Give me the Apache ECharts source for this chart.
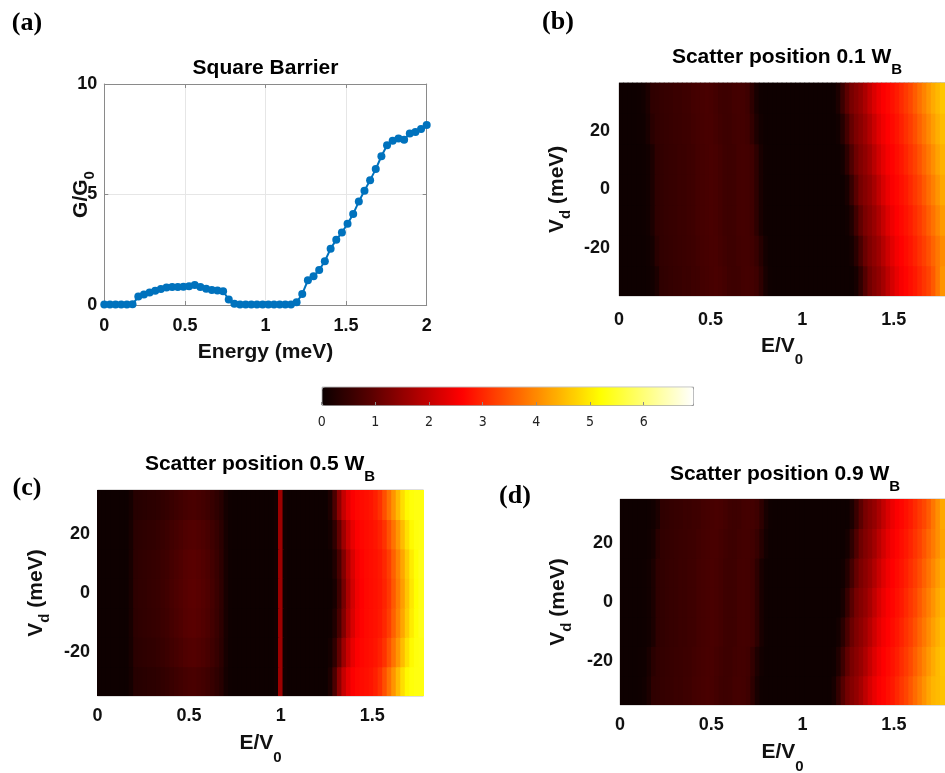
<!DOCTYPE html>
<html><head><meta charset="utf-8">
<script src="https://cdn.jsdelivr.net/npm/echarts@6/dist/echarts.min.js"></script>
<style>html,body{margin:0;padding:0;background:#fff}#c{width:945px;height:773px}</style>
</head><body><div id="c"></div>
<script>
// ---------- Panel (a): Square Barrier ----------
const energyMeV = [0,0.035,0.070,0.105,0.140,0.175,0.211,0.246,0.281,0.316,0.351,0.386,0.421,0.456,0.491,0.526,0.561,0.596,0.632,0.667,0.702,0.737,0.772,0.807,0.842,0.877,0.912,0.947,0.982,1.018,1.053,1.088,1.123,1.158,1.193,1.228,1.263,1.298,1.333,1.368,1.404,1.439,1.474,1.509,1.544,1.579,1.614,1.649,1.684,1.719,1.754,1.789,1.825,1.860,1.895,1.930,1.965,2.0];
const conductanceG = [0.02,0.02,0.02,0.02,0.02,0.03,0.38,0.48,0.57,0.64,0.72,0.79,0.82,0.82,0.83,0.85,0.9,0.82,0.74,0.68,0.66,0.62,0.25,0.06,0.02,0.02,0.02,0.02,0.02,0.02,0.02,0.02,0.02,0.02,0.12,0.5,1.12,1.3,1.58,1.98,2.55,2.95,3.28,3.68,4.12,4.68,5.17,5.65,6.15,6.73,7.23,7.43,7.53,7.48,7.76,7.83,7.96,8.14];
const aXTicks = [0,0.5,1,1.5,2];
const aYTicks = [0,5,10];

// ---------- Heatmaps (b), (c), (d) ----------
const eOverV0 = [0,0.025,0.05,0.075,0.1,0.125,0.15,0.175,0.2,0.225,0.25,0.275,0.3,0.325,0.35,0.375,0.4,0.425,0.45,0.475,0.5,0.525,0.55,0.575,0.6,0.625,0.65,0.675,0.7,0.725,0.75,0.775,0.8,0.825,0.85,0.875,0.9,0.925,0.95,0.975,1,1.025,1.05,1.075,1.1,1.125,1.15,1.175,1.2,1.225,1.25,1.275,1.3,1.325,1.35,1.375,1.4,1.425,1.45,1.475,1.5,1.525,1.55,1.575,1.6,1.625,1.65,1.675,1.7,1.725,1.75,1.775];
const vdRows = [-30,-20,-10,0,10,20,30];
const heatXTicks = [0,0.5,1,1.5];
const heatYTicks = [-20,0,20];
const colorbarTicks = [0,1,2,3,4,5,6];
const colorMax = 6.92;

// (b)/(d) low-energy part, E/V0 = 0 .. 1.125 (46 cells)
const lowMid       = [0.03,0.03,0.03,0.03,0.04,0.05,0.08,0.2,0.42,0.45,0.48,0.5,0.52,0.55,0.55,0.58,0.6,0.65,0.68,0.7,0.72,0.7,0.66,0.6,0.58,0.6,0.65,0.67,0.66,0.6,0.4,0.15,0.05,0.03,0.03,0.03,0.03,0.03,0.03,0.03,0.03,0.03,0.03,0.03,0.03,0.03];
const lowLeft      = [0.03,0.03,0.03,0.04,0.05,0.08,0.2,0.42,0.45,0.48,0.5,0.52,0.55,0.55,0.58,0.6,0.65,0.68,0.7,0.72,0.7,0.66,0.6,0.58,0.6,0.65,0.67,0.66,0.6,0.4,0.15,0.05,0.03,0.03,0.03,0.03,0.03,0.03,0.03,0.03,0.03,0.03,0.03,0.03,0.03,0.03];
const lowRight     = [0.03,0.03,0.03,0.03,0.03,0.04,0.05,0.08,0.2,0.42,0.45,0.48,0.5,0.52,0.55,0.55,0.58,0.6,0.65,0.68,0.7,0.72,0.7,0.66,0.6,0.58,0.6,0.65,0.67,0.66,0.6,0.4,0.15,0.05,0.03,0.03,0.03,0.03,0.03,0.03,0.03,0.03,0.03,0.03,0.03,0.03];
const lowLeftHalf  = [0.03,0.03,0.03,0.04,0.05,0.06,0.16,0.35,0.44,0.47,0.49,0.51,0.54,0.55,0.57,0.59,0.63,0.67,0.69,0.71,0.71,0.67,0.62,0.59,0.59,0.63,0.66,0.66,0.62,0.46,0.22,0.08,0.04,0.03,0.03,0.03,0.03,0.03,0.03,0.03,0.03,0.03,0.03,0.03,0.03,0.03];
const lowRightHalf = [0.03,0.03,0.03,0.03,0.03,0.04,0.06,0.12,0.35,0.44,0.47,0.49,0.51,0.54,0.55,0.57,0.59,0.63,0.67,0.69,0.71,0.71,0.67,0.62,0.59,0.59,0.63,0.66,0.66,0.62,0.52,0.3,0.1,0.04,0.03,0.03,0.03,0.03,0.03,0.03,0.03,0.03,0.03,0.03,0.03,0.03];

// (b) high-energy part, E/V0 = 1.15 .. 1.775 (26 cells), one per Vd row
const bHighM30 = [0.03,0.03,0.03,0.03,0.03,0.03,0.13,0.45,0.84,1.16,1.33,1.48,1.67,1.92,2.17,2.37,2.53,2.64,2.74,2.84,2.98,3.13,3.28,3.5,3.8,4.1];
const bHighM20 = [0.03,0.03,0.03,0.03,0.03,0.1,0.35,0.73,1.07,1.29,1.44,1.61,1.84,2.09,2.31,2.49,2.61,2.71,2.81,2.94,3.09,3.24,3.41,3.61,3.81,4.01];
const bHighM10 = [0.03,0.03,0.03,0.03,0.07,0.25,0.62,0.99,1.24,1.39,1.56,1.77,2.02,2.26,2.44,2.58,2.68,2.78,2.89,3.04,3.19,3.36,3.56,3.76,3.96,4.16];
const bHigh0   = [0.03,0.03,0.03,0.03,0.15,0.5,0.9,1.2,1.35,1.5,1.7,1.95,2.2,2.4,2.55,2.65,2.75,2.85,3.0,3.15,3.3,3.5,3.7,3.9,4.1,4.3];
const bHighP10 = [0.03,0.03,0.03,0.11,0.4,0.78,1.11,1.31,1.46,1.64,1.88,2.13,2.34,2.51,2.62,2.72,2.82,2.96,3.11,3.26,3.44,3.64,3.84,4.04,4.24,4.41];
const bHighP20 = [0.03,0.03,0.08,0.3,0.67,1.03,1.26,1.41,1.59,1.81,2.06,2.29,2.46,2.59,2.69,2.79,2.92,3.07,3.22,3.39,3.59,3.79,3.99,4.19,4.37,4.52];
const bHighP30 = [0.03,0.05,0.2,0.56,0.94,1.22,1.37,1.53,1.74,1.99,2.23,2.42,2.56,2.66,2.76,2.87,3.02,3.17,3.33,3.53,3.73,3.93,4.13,4.32,4.47,4.62];

// (d) high-energy part
const dHighM30 = [0.03,0.14,0.47,0.86,1.17,1.34,1.49,1.68,1.93,2.18,2.38,2.54,2.64,2.74,2.84,2.99,3.14,3.29,3.48,3.68,3.88,4.08,4.28,4.44,4.5,4.58];
const dHighM20 = [0.03,0.06,0.24,0.6,0.98,1.24,1.39,1.55,1.76,2.01,2.25,2.44,2.58,2.68,2.78,2.89,3.04,3.19,3.35,3.55,3.75,3.95,4.15,4.34,4.49,4.6];
const dHighM10 = [0.03,0.03,0.1,0.36,0.74,1.08,1.29,1.44,1.62,1.85,2.1,2.32,2.49,2.61,2.71,2.81,2.94,3.09,3.24,3.42,3.62,3.82,4.02,4.22,4.39,4.54];
const dHigh0   = [0.03,0.03,0.03,0.15,0.5,0.9,1.2,1.35,1.5,1.7,1.95,2.2,2.4,2.55,2.65,2.75,2.85,3.0,3.15,3.3,3.5,3.7,3.9,4.1,4.3,4.45];
const dHighP10 = [0.03,0.03,0.03,0.08,0.29,0.66,1.02,1.26,1.41,1.58,1.8,2.05,2.28,2.46,2.59,2.69,2.79,2.91,3.06,3.21,3.38,3.58,3.78,3.98,4.18,4.36];
const dHighP20 = [0.03,0.03,0.03,0.03,0.12,0.41,0.8,1.13,1.31,1.46,1.65,1.89,2.14,2.35,2.51,2.63,2.73,2.83,2.96,3.11,3.26,3.45,3.65,3.85,4.05,4.25];
const dHighP30 = [0.03,0.03,0.03,0.03,0.04,0.19,0.54,0.93,1.22,1.37,1.52,1.73,1.98,2.22,2.42,2.56,2.66,2.76,2.87,3.02,3.17,3.32,3.52,3.8,4.05,4.3];

// (c) low-energy part, E/V0 = 0 .. 1.225 (50 cells), incl. the resonance line at E = V0
const cLow0  = [0.03,0.03,0.03,0.03,0.03,0.03,0.03,0.15,0.4,0.43,0.45,0.48,0.5,0.53,0.57,0.62,0.7,0.76,0.82,0.88,0.92,0.93,0.9,0.85,0.78,0.68,0.55,0.4,0.15,0.05,0.03,0.03,0.03,0.03,0.03,0.03,0.03,0.03,0.03,0.08,1.6,0.08,0.03,0.03,0.03,0.03,0.03,0.03,0.03,0.03];
const cLow10 = [0.03,0.03,0.03,0.03,0.03,0.03,0.03,0.15,0.39,0.42,0.44,0.47,0.49,0.52,0.56,0.6,0.68,0.74,0.8,0.86,0.9,0.91,0.88,0.83,0.76,0.66,0.54,0.39,0.15,0.05,0.03,0.03,0.03,0.03,0.03,0.03,0.03,0.03,0.03,0.08,1.6,0.08,0.03,0.03,0.03,0.03,0.03,0.03,0.03,0.03];
const cLow20 = [0.03,0.03,0.03,0.03,0.03,0.03,0.03,0.14,0.36,0.39,0.41,0.43,0.45,0.48,0.51,0.56,0.63,0.68,0.74,0.79,0.83,0.84,0.81,0.77,0.7,0.61,0.5,0.36,0.14,0.05,0.03,0.03,0.03,0.03,0.03,0.03,0.03,0.03,0.03,0.08,1.6,0.08,0.03,0.03,0.03,0.03,0.03,0.03,0.03,0.03];
const cLow30 = [0.03,0.03,0.03,0.03,0.03,0.03,0.03,0.12,0.31,0.33,0.35,0.37,0.39,0.41,0.44,0.48,0.54,0.59,0.63,0.68,0.71,0.72,0.69,0.65,0.6,0.52,0.42,0.31,0.12,0.05,0.03,0.03,0.03,0.03,0.03,0.03,0.03,0.03,0.03,0.08,1.6,0.08,0.03,0.03,0.03,0.03,0.03,0.03,0.03,0.03];
// (c) high-energy part, E/V0 = 1.25 .. 1.775 (22 cells)
const cHigh0  = [0.03,0.03,0.15,0.6,1.2,1.75,2.15,2.45,2.6,2.68,2.72,2.76,2.82,2.95,3.15,3.5,3.85,4.2,4.6,4.95,5.2,5.35];
const cHigh10 = [0.03,0.05,0.24,0.71,1.3,1.83,2.21,2.48,2.62,2.69,2.73,2.77,2.84,2.99,3.22,3.57,3.92,4.28,4.67,5.0,5.23,5.37];
const cHigh20 = [0.03,0.1,0.42,1.0,1.6,2.05,2.38,2.57,2.66,2.71,2.75,2.81,2.92,3.1,3.42,3.77,4.12,4.51,4.87,5.14,5.28,5.32];
const cHigh30 = [0.03,0.2,0.75,1.45,2.0,2.35,2.56,2.66,2.71,2.75,2.8,2.91,3.09,3.4,3.75,4.1,4.49,4.85,5.13,5.25,5.3,5.3];

// rows listed bottom (Vd = -30) to top (Vd = +30)
const bRows = [lowRight.concat(bHighM30), lowRightHalf.concat(bHighM20), lowMid.concat(bHighM10), lowMid.concat(bHigh0),
               lowMid.concat(bHighP10), lowLeftHalf.concat(bHighP20), lowLeft.concat(bHighP30)];
const cRows = [cLow30.concat(cHigh30), cLow20.concat(cHigh20), cLow10.concat(cHigh10), cLow0.concat(cHigh0),
               cLow10.concat(cHigh10), cLow20.concat(cHigh20), cLow30.concat(cHigh30)];
const dRows = [lowLeft.concat(dHighM30), lowLeftHalf.concat(dHighM20), lowMid.concat(dHighM10), lowMid.concat(dHigh0),
               lowMid.concat(dHighP10), lowRightHalf.concat(dHighP20), lowRight.concat(dHighP30)];

// ---------- build ----------
function cells(rows) {
  const out = [];
  rows.forEach((row, j) => row.forEach((v, i) => out.push([i, j, v])));
  return out;
}
function renderCell(params, api) {
  const c = api.coord([api.value(0), api.value(1)]);
  const s = api.size([1, 1]);
  return { type: 'rect',
    shape: { x: c[0] - s[0] / 2 - 0.6, y: c[1] - s[1] / 2 - 0.6, width: s[0] + 1.2, height: s[1] + 1.2 },
    style: { fill: api.visual('color') } };
}
const SANS = "'Liberation Sans', Arial, Helvetica, sans-serif";
const SERIF = "'Liberation Serif', 'Times New Roman', serif";
const INK = '#111';
const tickLbl = { fontFamily: SANS, fontWeight: 'bold', fontSize: 18, color: INK };
const nameMain = { fontFamily: SANS, fontWeight: 'bold', fontSize: 21, lineHeight: 22, color: INK };
const subX = { fontFamily: SANS, fontWeight: 'bold', fontSize: 15, lineHeight: 16, padding: [28, 0, 0, 0], color: INK };
const subY = { fontFamily: SANS, fontWeight: 'bold', fontSize: 15, lineHeight: 16, padding: [18, 0, 0, 0], color: INK };
const subT = { fontFamily: SANS, fontWeight: 'bold', fontSize: 15, lineHeight: 16, padding: [25, 0, 0, 0], fill: '#000' };
const titleMain = { fontFamily: SANS, fontWeight: 'bold', fontSize: 21, lineHeight: 22, fill: '#000' };
const axGray = '#8a8a8a';
const hot = ['#0b0000', '#550000', '#aa0000', '#ff0000', '#ff5500', '#ffaa00', '#ffff00', '#ffff80', '#ffffff'];

const heatGrids = [
  { left: 619, top: 82.7, width: 326, height: 213.3, vmin: -36.5, vmax: 36.5, xm: 15, ym: 9, xg: 39, yg: 51 },
  { left: 97.5, top: 490, width: 326, height: 206, vmin: -35, vmax: 35, xm: 11.5, ym: 7.5, xg: 36.7, yg: 50.5 },
  { left: 620, top: 499, width: 325, height: 206, vmin: -35, vmax: 35, xm: 11, ym: 7, xg: 36.7, yg: 51 }
];

const grid = [{ left: 104.3, top: 84, width: 322.4, height: 221, outerBoundsMode: 'none' }];
heatGrids.forEach(g => grid.push({ left: g.left, top: g.top, width: g.width, height: g.height, show: true,
  borderColor: '#bdbdbd', borderWidth: 1, backgroundColor: 'transparent', outerBoundsMode: 'none' }));
grid.push({ left: 321.7, top: 386.7, width: 371.3, height: 18.3, outerBoundsMode: 'none' });

const xAxis = [
  { type: 'value', gridIndex: 0, min: 0, max: 2, interval: 0.5, position: 'bottom',
    axisLine: { onZero: false, lineStyle: { color: axGray, width: 1 } },
    axisTick: { inside: true, length: 4, lineStyle: { color: axGray } },
    splitLine: { show: true, lineStyle: { color: '#e6e6e6', width: 1 } },
    axisLabel: Object.assign({ margin: 12, customValues: aXTicks }, tickLbl),
    name: 'Energy (meV)', nameLocation: 'middle', nameGap: 36, nameMoveOverlap: false,
    nameTextStyle: nameMain },
  { type: 'value', gridIndex: 0, min: 0, max: 2, interval: 0.5, position: 'top',
    axisLine: { onZero: false, lineStyle: { color: axGray, width: 1 } },
    axisTick: { inside: true, length: 4, lineStyle: { color: axGray } },
    axisLabel: { show: false }, splitLine: { show: false } }
];
const yAxis = [
  { type: 'value', gridIndex: 0, min: 0, max: 10, interval: 5, position: 'left',
    axisLine: { onZero: false, lineStyle: { color: axGray, width: 1 } },
    axisTick: { inside: true, length: 4, lineStyle: { color: axGray } },
    splitLine: { show: true, lineStyle: { color: '#e6e6e6', width: 1 } },
    axisLabel: Object.assign({ margin: 7, customValues: aYTicks }, tickLbl),
    name: '{m|G/G}{s|0}', nameLocation: 'middle', nameGap: 12, nameMoveOverlap: false,
    nameTextStyle: { rich: { m: nameMain, s: subY } } },
  { type: 'value', gridIndex: 0, min: 0, max: 10, interval: 5, position: 'right',
    axisLine: { onZero: false, lineStyle: { color: axGray, width: 1 } },
    axisTick: { inside: true, length: 4, lineStyle: { color: axGray } },
    axisLabel: { show: false }, splitLine: { show: false } }
];
heatGrids.forEach((g, k) => {
  const gi = k + 1;
  xAxis.push({ type: 'category', gridIndex: gi, data: eOverV0, position: 'top', show: false });
  xAxis.push({ type: 'value', gridIndex: gi, min: 0, max: 1.78, position: 'bottom',
    axisLine: { show: false, onZero: false }, axisTick: { show: false }, splitLine: { show: false },
    axisLabel: Object.assign({ margin: g.xm, customValues: heatXTicks }, tickLbl),
    name: '{m|E/V}{s|0}', nameLocation: 'middle', nameGap: g.xg, nameMoveOverlap: false,
    nameTextStyle: { rich: { m: nameMain, s: subX } } });
  yAxis.push({ type: 'category', gridIndex: gi, data: vdRows, position: 'right', show: false });
  yAxis.push({ type: 'value', gridIndex: gi, min: g.vmin, max: g.vmax, position: 'left',
    axisLine: { show: false, onZero: false }, axisTick: { show: false }, splitLine: { show: false },
    axisLabel: Object.assign({ margin: g.ym, customValues: heatYTicks }, tickLbl),
    name: '{m|V}{s|d}{m| (meV)}', nameLocation: 'middle', nameGap: g.yg, nameMoveOverlap: false,
    nameTextStyle: { rich: { m: nameMain, s: subY } } });
});
xAxis.push({ type: 'value', gridIndex: 4, min: 0, max: colorMax, position: 'bottom', z: 6,
  axisLine: { show: false, onZero: false },
  axisTick: { show: true, inside: true, length: 3, customValues: colorbarTicks, lineStyle: { color: '#8a8a8a' } },
  splitLine: { show: false },
  axisLabel: { margin: 10, customValues: colorbarTicks, fontFamily: "'Liberation Sans Narrow', 'DejaVu Sans Condensed', sans-serif", fontSize: 14, color: '#222' } });
yAxis.push({ type: 'value', gridIndex: 4, min: 0, max: 1, show: false });

const heatSeries = (xi, rows) => ({ type: 'custom', xAxisIndex: xi, yAxisIndex: xi, renderItem: renderCell,
  data: cells(rows), clip: true, silent: true, encode: { x: 0, y: 1 } });

const series = [
  { type: 'line', xAxisIndex: 0, yAxisIndex: 0, data: energyMeV.map((e, k) => [e, conductanceG[k]]),
    symbol: 'circle', symbolSize: 8, showSymbol: true, showAllSymbol: true, clip: false,
    lineStyle: { color: '#0072BD', width: 2 }, itemStyle: { color: '#0072BD' }, z: 3 },
  heatSeries(2, bRows),
  heatSeries(4, cRows),
  heatSeries(6, dRows)
];

const graphic = [
  { type: 'text', x: 27, y: 23, style: { text: '(a)', font: 'bold 26px ' + SERIF, fill: '#000', align: 'center', verticalAlign: 'middle' } },
  { type: 'text', x: 558, y: 22, style: { text: '(b)', font: 'bold 26px ' + SERIF, fill: '#000', align: 'center', verticalAlign: 'middle' } },
  { type: 'text', x: 27, y: 488, style: { text: '(c)', font: 'bold 26px ' + SERIF, fill: '#000', align: 'center', verticalAlign: 'middle' } },
  { type: 'text', x: 515, y: 496, style: { text: '(d)', font: 'bold 26px ' + SERIF, fill: '#000', align: 'center', verticalAlign: 'middle' } },
  { type: 'text', x: 265.5, y: 68, style: { text: 'Square Barrier', font: 'bold 21px ' + SANS, fill: '#000', align: 'center', verticalAlign: 'middle' } },
  { type: 'text', x: 787, y: 57.5, style: { text: '{m|Scatter position 0.1 W}{s|B}', rich: { m: titleMain, s: subT }, align: 'center', verticalAlign: 'middle' } },
  { type: 'text', x: 260, y: 464, style: { text: '{m|Scatter position 0.5 W}{s|B}', rich: { m: titleMain, s: subT }, align: 'center', verticalAlign: 'middle' } },
  { type: 'text', x: 785, y: 474, style: { text: '{m|Scatter position 0.9 W}{s|B}', rich: { m: titleMain, s: subT }, align: 'center', verticalAlign: 'middle' } }
];

const chart = echarts.init(document.getElementById('c'), null, { renderer: 'canvas' });
chart.setOption({
  animation: false,
  backgroundColor: '#fff',
  textStyle: { fontFamily: SANS },
  grid, xAxis, yAxis, series, graphic,
  visualMap: {
    type: 'continuous', min: 0, max: colorMax, dimension: 2, seriesIndex: [1, 2, 3],
    orient: 'horizontal', left: 321.7, top: 386.7, itemWidth: 18.3, itemHeight: 371.3,
    padding: 0, calculable: false, hoverLink: false, realtime: false,
    inRange: { color: hot }, borderColor: '#9a9a9a', borderWidth: 1, z: 4
  }
});
</script>
</body></html>
